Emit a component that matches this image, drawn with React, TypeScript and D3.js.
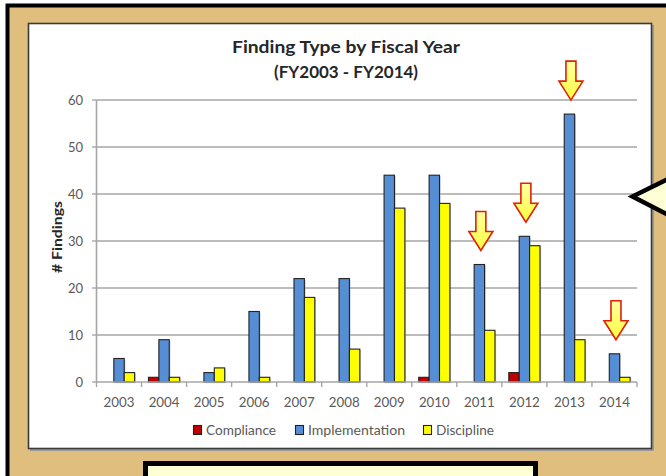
import React from 'react';
import * as d3 from 'd3';

const years = ['2003', '2004', '2005', '2006', '2007', '2008', '2009', '2010', '2011', '2012', '2013', '2014'];
const compliance = [0, 1, 0, 0, 0, 0, 0, 1, 0, 2, 0, 0];
const implementation = [5, 9, 2, 15, 22, 22, 44, 44, 25, 31, 57, 6];
const discipline = [2, 1, 3, 1, 18, 7, 37, 38, 11, 29, 9, 1];
const seriesNames = ['Compliance', 'Implementation', 'Discipline'];
const seriesColors = ['#C00000', '#558ED5', '#FFFF00'];
const yTicks = [0, 10, 20, 30, 40, 50, 60];
const flaggedYears = ['2011', '2012', '2013', '2014'];
const titleLines = ['Finding Type by Fiscal Year', '(FY2003 - FY2014)'];
const yAxisTitle = '# Findings';

const W = 666;
const H = 476;
const FONT = 'Lato, "Open Sans", sans-serif';

export default function App() {
  const plot = { left: 96.5, right: 637, top: 100, bottom: 382 };
  const x0 = d3.scaleBand<string>().domain(years).range([plot.left, plot.right]).paddingInner(0).paddingOuter(0);
  const x1 = d3.scaleBand<string>().domain(seriesNames).range([0, x0.bandwidth()]).paddingInner(0).paddingOuter(0.665);
  const y = d3.scaleLinear().domain([0, 60]).range([plot.bottom, plot.top]);
  const seriesData = [compliance, implementation, discipline];

  const arrowPath = (cx: number, tip: number) => {
    const sh = 5, hh = 12, total = 39, head = 19;
    const p = d3.path();
    p.moveTo(cx - sh, tip - total);
    p.lineTo(cx + sh, tip - total);
    p.lineTo(cx + sh, tip - head);
    p.lineTo(cx + hh, tip - head);
    p.lineTo(cx, tip);
    p.lineTo(cx - hh, tip - head);
    p.lineTo(cx - sh, tip - head);
    p.closePath();
    return p.toString();
  };

  const boundaries = [...years.map((yr) => x0(yr) as number), plot.right];
  const titleWidths = [228, 144];

  return (
    <svg width={W} height={H} style={{ position: 'absolute', left: 0, top: 0, display: 'block' }} xmlns="http://www.w3.org/2000/svg">
      <defs>
        <linearGradient id="arrowFill" x1="0" y1="0" x2="0" y2="1">
          <stop offset="0" stopColor="#FFFFA0" />
          <stop offset="1" stopColor="#FFFF40" />
        </linearGradient>
      </defs>
      {/* page background */}
      <rect x={0} y={0} width={W} height={H} fill="#ffffff" />
      {/* tan frame with black outer border */}
      <rect x={7.5} y={5.5} width={W + 10} height={H + 10} fill="#E0BE7D" stroke="#000" strokeWidth={4} />
      {/* chart area shadow + box */}
      <rect x={30} y={25} width={624} height={426} fill="#9a9a9a" />
      <rect x={28.5} y={23.5} width={623} height={425} fill="#ffffff" stroke="#3a3a3a" strokeWidth={1.6} />

      {/* title */}
      {titleLines.map((t, i) => (
        <text key={t} x={346} y={47 + i * 25} dy="0.35em" textAnchor="middle" fontFamily={FONT} fontWeight={700} fontSize={17} fill="#262626" textLength={titleWidths[i]} lengthAdjust="spacingAndGlyphs">
          {t}
        </text>
      ))}

      {/* gridlines + y ticks */}
      {yTicks.map((t) => (
        <g key={t}>
          {t > 0 && (
            <line x1={plot.left} x2={plot.right} y1={y(t)} y2={y(t)} stroke="#A6A6A6" strokeWidth={1.4} />
          )}
          <line x1={plot.left - 4.5} x2={plot.left} y1={y(t)} y2={y(t)} stroke="#A6A6A6" strokeWidth={1.4} />
          <text x={83} y={y(t)} dy="0.35em" textAnchor="end" fontFamily={FONT} fontSize={13} fill="#595959">
            {t}
          </text>
        </g>
      ))}
      {/* y axis line */}
      <line x1={plot.left} x2={plot.left} y1={plot.top} y2={plot.bottom} stroke="#A6A6A6" strokeWidth={1.6} />
      {/* y axis title */}
      <text transform={`translate(57,${(plot.top + plot.bottom) / 2 - 4}) rotate(-90)`} dy="0.35em" textAnchor="middle" fontFamily={FONT} fontWeight={700} fontSize={14} fill="#262626" textLength={72} lengthAdjust="spacingAndGlyphs">
        {yAxisTitle}
      </text>

      {/* bars */}
      {years.map((yr, i) => (
        <g key={yr} transform={`translate(${x0(yr)},0)`}>
          {seriesNames.map((s, j) => {
            const v = seriesData[j][i];
            if (!v) return null;
            const bx = x1(s) as number;
            const bw = x1.bandwidth();
            return (
              <g key={s}>
                <rect x={bx + 1.2} y={y(v) + 1.2} width={bw} height={plot.bottom - y(v)} fill="#b0b0b0" opacity={0.6} />
                <rect x={bx} y={y(v)} width={bw} height={plot.bottom - y(v)} fill={seriesColors[j]} stroke="#222" strokeWidth={1.1} />
              </g>
            );
          })}
        </g>
      ))}

      {/* x axis line + ticks */}
      <line x1={plot.left} x2={plot.right} y1={plot.bottom} y2={plot.bottom} stroke="#A6A6A6" strokeWidth={1.6} />
      {boundaries.map((bx, i) => (
        <line key={i} x1={bx} x2={bx} y1={plot.bottom} y2={plot.bottom + 5} stroke="#A6A6A6" strokeWidth={1.4} />
      ))}
      {years.map((yr) => (
        <text key={yr} x={(x0(yr) as number) + x0.bandwidth() / 2} y={402} dy="0.35em" textAnchor="middle" fontFamily={FONT} fontSize={13.3} fill="#595959">
          {yr}
        </text>
      ))}

      {/* legend */}
      {(() => {
        const starts = [193, 295, 423];
        const widths = [70, 97, 58];
        return seriesNames.map((s, j) => (
          <g key={s} transform={`translate(${starts[j]},430)`}>
            <rect x={0.5} y={-4.5} width={8} height={9} fill={seriesColors[j]} stroke="#222" strokeWidth={1.1} />
            <text x={13} y={0} dy="0.35em" fontFamily={FONT} fontSize={13.5} fill="#595959" textLength={widths[j]} lengthAdjust="spacingAndGlyphs">
              {s}
            </text>
          </g>
        ));
      })()}

      {/* arrows */}
      {flaggedYears.map((yr) => {
        const i = years.indexOf(yr);
        const cx = (x0(yr) as number) + x0.bandwidth() / 2 + 1.5;
        const tip = y(implementation[i]) - 14;
        return <path key={yr} d={arrowPath(cx, tip)} fill="url(#arrowFill)" stroke="#E0200A" strokeWidth={1.6} strokeLinejoin="miter" />;
      })}

      {/* callout pointer on right */}
      <path d="M 690 168 L 632.5 196.5 L 690 226" fill="#FFFFD6" stroke="#000" strokeWidth={4.5} strokeLinejoin="miter" />

      {/* bottom text box */}
      <rect x={145.5} y={463.5} width={390} height={40} fill="#FFFFD6" stroke="#000" strokeWidth={5} />
    </svg>
  );
}
